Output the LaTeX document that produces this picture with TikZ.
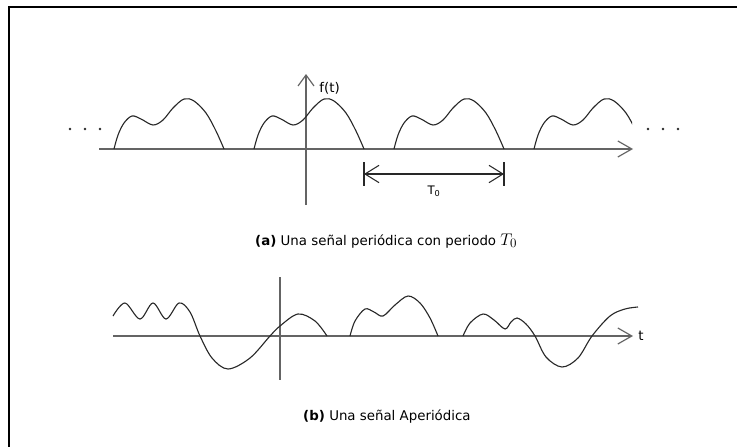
\documentclass[tikz,border=0pt]{standalone}
\usepackage{fontspec}
\setmainfont{DejaVu Sans}
\usepackage{tikz}
\usetikzlibrary{arrows.meta}
\definecolor{axisgray}{RGB}{100,100,100}
\definecolor{curvegray}{RGB}{40,40,40}
\tikzset{
  axis/.style={axisgray,line width=1pt},
  signal/.style={curvegray,line width=0.95pt,smooth,tension=0.55},
  barb/.style={-{Straight Barb[length=4.2mm,width=4.8mm]}},
  pulse/.pic={\draw[signal] plot coordinates {(0,0) (4,-14) (10,-26) (18,-33) (27,-30)
      (39,-24) (49,-29) (59,-41) (70,-50) (80,-48) (92,-36) (102,-18) (110,0)};}
}

\begin{document}
\begin{tikzpicture}[x=0.03cm,y=-0.03cm,font=\fontsize{11.4}{13}\selectfont]
  \useasboundingbox (0,0) rectangle (737,447);
  \draw[line width=1.7pt] (737,7) -- (9,7) -- (9,447);

  % (a) periodic signal
  \coordinate (a0) at (99,149);   \coordinate (a1) at (633,149);
  \coordinate (v0) at (306,205);  \coordinate (v1) at (306,74);
  \draw[axis,barb] (a0) -- (a1);
  \draw[axis,-{Straight Barb[length=3.3mm,width=4.8mm]}] (v0) -- (v1);
  \node[anchor=west,inner sep=1pt] (ft) at (318,88) {f(t)};
  \foreach \x in {70,85,100,648,663,678}
    \fill[curvegray] (\x,129) circle (1.1pt);
  \foreach \s in {114,254,394}
    \pic at (\s,149) {pulse};
  \begin{scope}
    \clip (530,60) rectangle (632,150);
    \pic at (534,149) {pulse};
  \end{scope}
  \coordinate (ta) at (364,174); \coordinate (tb) at (504,174);
  \draw[curvegray,line width=0.9pt] (364,162) -- (364,186) (504,162) -- (504,186);
  \draw[curvegray,line width=0.9pt,{Straight Barb[length=4.2mm,width=5.2mm]}-{Straight Barb[length=4.2mm,width=5.2mm]}] (ta) -- (tb);
  \node[inner sep=1pt,font=\fontsize{10}{11}\selectfont] (tlab) at (434,191) {T\textsubscript{0}};
  \node[anchor=west,inner sep=0pt] (capa) at (255,241)
    {\textbf{(a)} Una señal periódica con periodo \fontsize{15}{16}\selectfont$T_0$};

  % (b) aperiodic signal
  \coordinate (b0) at (113,336);  \coordinate (b1) at (633,336);
  \coordinate (w0) at (280,277);  \coordinate (w1) at (280,380);
  \draw[axis,barb] (b0) -- (b1);
  \draw[axis] (w0) -- (w1);
  \node[anchor=west,inner sep=1pt] (tvar) at (637,336) {t};
  \draw[signal] plot coordinates {(113,316) (125,303) (140,319) (153,303) (166,319)
    (179,303) (190,312) (200,336) (212,358) (228,369) (250,358) (270,336) (280,326)
    (298,314) (315,321) (327,336)};
  \draw[signal] plot coordinates {(350,336) (355,321) (365,309) (374,312) (383,316)
    (395,305) (408,296) (420,303) (430,318) (438,336)};
  \draw[signal] plot coordinates {(463,336) (470,323) (483,314) (494,320) (505,329)
    (511,322) (517,318) (526,324) (535,336) (546,357) (562,367) (578,358) (592,336)
    (610,316) (625,309) (638,307)};
  \node[anchor=west,inner sep=0pt] (capb) at (303,417)
    {\textbf{(b)} Una señal Aperiódica};
\end{tikzpicture}
\end{document}
